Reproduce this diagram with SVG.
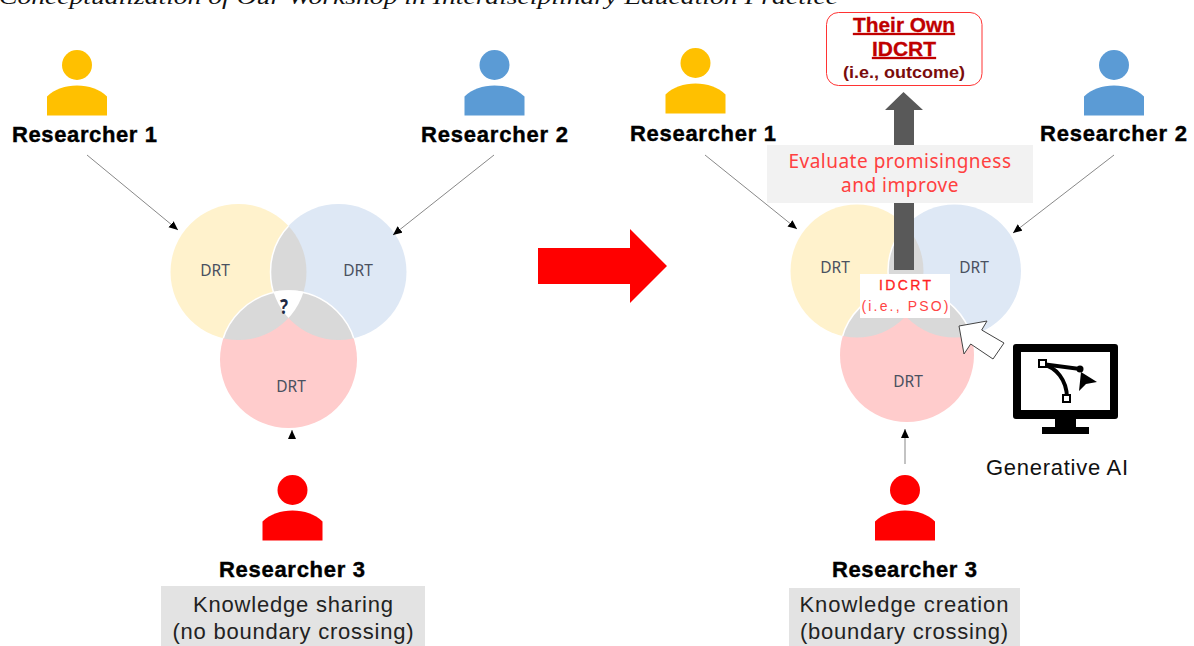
<svg xmlns="http://www.w3.org/2000/svg" width="1194" height="646" viewBox="0 0 1194 646">
<style>
.s{font-family:"Liberation Sans",Arial,sans-serif}
.r{font-family:"Liberation Sans",Arial,sans-serif;font-weight:700;font-size:22px;fill:#000;stroke:#000;stroke-width:.4}
.d{font-family:"Noto Sans",sans-serif;font-size:15.500px;fill:#4a5160;text-anchor:middle}
.k{font-family:"Liberation Sans",Arial,sans-serif;font-size:22px;fill:#222;text-anchor:middle}
.lens{fill:#d9d9d9;stroke:#fff;stroke-width:1.5}
.c{stroke:#555;stroke-width:.7;fill:none;marker-end:url(#ah)}
</style>
<defs>
<marker id="ah" markerWidth="12" markerHeight="12" refX="9" refY="4" orient="auto" markerUnits="userSpaceOnUse"><path d="M0 0L9 4L0 8Z" fill="#000"/></marker>
<g id="person"><circle cx="0" cy="15" r="15"/><path d="M-30 65.500V46.500C-22 39-12 35.500 0 35.500S22 39 30 46.500V65.500Z"/></g>
<clipPath id="ly"><circle cx="238.500" cy="272" r="68"/></clipPath>
<clipPath id="lb"><circle cx="338.500" cy="272" r="68"/></clipPath>
<clipPath id="ry"><circle cx="857" cy="271" r="66.500"/></clipPath>
<clipPath id="rb"><circle cx="954.500" cy="271" r="66.500"/></clipPath>
</defs>
<text x="-1" y="4" font-family="Liberation Serif,serif" font-style="italic" font-size="22" textLength="839" lengthAdjust="spacingAndGlyphs" fill="#111">Conceptualization of Our Workshop in Interdisciplinary Education Practice</text>

<g id="venn-left">
<circle cx="238.500" cy="272" r="68" fill="#fff2cc"/>
<circle cx="338.500" cy="272" r="68" fill="#dee8f5"/>
<circle cx="288.500" cy="359.500" r="68.500" fill="#ffcccc"/>
<g clip-path="url(#ly)"><circle class="lens" cx="338.500" cy="272" r="68"/></g>
<g clip-path="url(#ly)"><circle class="lens" cx="288.500" cy="359.500" r="68.500"/></g>
<g clip-path="url(#lb)"><circle class="lens" cx="288.500" cy="359.500" r="68.500"/></g>
<g clip-path="url(#ly)"><g clip-path="url(#lb)"><circle cx="288.500" cy="359.500" r="68.500" fill="#fff"/></g></g>
<text class="d" x="215" y="275.500">DRT</text><text class="d" x="358" y="275.500">DRT</text><text class="d" x="291" y="391.500">DRT</text>
<text x="284" y="314" font-family="Noto Sans,sans-serif" font-weight="700" font-size="22" fill="#1f2a44" text-anchor="middle" textLength="8" lengthAdjust="spacingAndGlyphs">?</text>
</g>

<g id="venn-right">
<circle cx="857" cy="271" r="66.500" fill="#fff2cc"/>
<circle cx="954.500" cy="271" r="66.500" fill="#dee8f5"/>
<circle cx="907" cy="355" r="67" fill="#ffcccc"/>
<g clip-path="url(#ry)"><circle class="lens" cx="954.500" cy="271" r="66.500"/></g>
<g clip-path="url(#ry)"><circle class="lens" cx="907" cy="355" r="67"/></g>
<g clip-path="url(#rb)"><circle class="lens" cx="907" cy="355" r="67"/></g>
<text class="d" x="835" y="273">DRT</text><text class="d" x="974" y="273">DRT</text><text class="d" x="908" y="386.500">DRT</text>
</g>

<g id="connectors">
<path class="c" d="M87 155L178 230"/>
<path class="c" d="M494 155L393 235"/>
<path class="c" d="M292 437V430"/>
<path class="c" d="M705 155L797 229"/>
<path class="c" d="M1114 155L1013 233"/>
<path class="c" d="M905 464V429"/>
</g>

<g id="researcher-1-left"><use href="#person" x="77" y="50" fill="#ffc000"/><text class="r" x="12" y="142" textLength="145">Researcher 1</text></g>
<g id="researcher-2-left"><use href="#person" x="494.500" y="50" fill="#5b9bd5"/><text class="r" x="421" y="142" textLength="147">Researcher 2</text></g>
<g id="researcher-3-left"><use href="#person" x="292.500" y="475" fill="#f00"/><text class="r" x="219" y="577" textLength="146">Researcher 3</text></g>
<g id="researcher-1-right"><use href="#person" x="695.500" y="48" fill="#ffc000"/><text class="r" x="630" y="141" textLength="146">Researcher 1</text></g>
<g id="researcher-2-right"><use href="#person" x="1114" y="50" fill="#5b9bd5"/><text class="r" x="1040" y="141" textLength="147">Researcher 2</text></g>
<g id="researcher-3-right"><use href="#person" x="905" y="475" fill="#f00"/><text class="r" x="832" y="577" textLength="145">Researcher 3</text></g>

<g id="sharing"><rect x="161" y="586" width="264" height="60" fill="#e3e3e3"/><text class="k" x="293" y="612" textLength="200">Knowledge sharing</text><text class="k" x="293" y="639" textLength="241">(no boundary crossing)</text></g>
<g id="creation"><rect x="789" y="588" width="231" height="58" fill="#e3e3e3"/><text class="k" x="904" y="612" textLength="209">Knowledge creation</text><text class="k" x="904" y="639" textLength="208">(boundary crossing)</text></g>

<path id="big-arrow" d="M538 248H630V229L667 266L630 303V284H538Z" fill="#f00"/>

<path id="up-arrow" d="M894 270V110H885L903.500 92L923 110H914V270Z" fill="#595959"/>
<g id="evaluate"><rect x="767" y="145" width="266" height="58" fill="#f2f2f2"/>
<text x="900" y="168" font-family="Noto Sans,sans-serif" font-size="19" letter-spacing=".5" fill="#ff4040" text-anchor="middle">Evaluate promisingness</text>
<text x="900" y="192" font-family="Noto Sans,sans-serif" font-size="19" letter-spacing=".5" fill="#ff4040" text-anchor="middle">and improve</text></g>
<path d="M894 203V270H914V203Z" fill="#595959"/>

<g id="outcome"><rect x="826.500" y="12.500" width="155.500" height="73" rx="12" fill="#fff" stroke="#f33" stroke-width="1"/>
<g class="s" font-weight="700" text-anchor="middle">
<text x="904" y="32" font-size="20" fill="#c00000" stroke="#c00000" stroke-width=".3" text-decoration="underline" textLength="102" lengthAdjust="spacingAndGlyphs">Their Own</text>
<text x="904" y="56" font-size="20" fill="#c00000" stroke="#c00000" stroke-width=".3" text-decoration="underline" textLength="64" lengthAdjust="spacingAndGlyphs">IDCRT</text>
<text x="904" y="78" font-size="17" fill="#7a0c0c" textLength="122" lengthAdjust="spacingAndGlyphs">(i.e., outcome)</text>
</g></g>

<g id="idcrt"><rect x="860" y="274" width="90" height="44" fill="#fff"/>
<text class="s" x="905" y="290" font-size="14" fill="#f22" stroke="#f22" stroke-width=".3" text-anchor="middle" textLength="52">IDCRT</text>
<text class="s" x="905" y="311" font-size="14" fill="#f44" text-anchor="middle" textLength="87">(i.e., PSO)</text></g>

<path id="white-arrow" d="M959 326L987 321L981.700 330L1004 343L993 359L970.700 344L964 354Z" fill="#fff" stroke="#444" stroke-width="1"/>

<g id="generative-ai">
<path fill-rule="evenodd" d="M1016 344H1115Q1118 344 1118 347V416Q1118 419 1115 419H1076V427H1089V434H1042V427H1055V419H1016Q1013 419 1013 416V347Q1013 344 1016 344ZM1021 352V410H1110V352Z" fill="#000"/>
<path d="M1042 362L1080 367V371L1042 366Z" fill="#000"/>
<path d="M1042 364C1056 367 1067 380 1067 398" stroke="#000" stroke-width="4" fill="none"/>
<circle cx="1080" cy="369" r="3.500" fill="#000"/>
<path d="M1097 382L1081 372L1079 391L1086 384Z" fill="#000"/>
<rect x="1039" y="360" width="7" height="7" fill="#fff" stroke="#000" stroke-width="2"/>
<rect x="1063" y="395" width="7" height="7" fill="#fff" stroke="#000" stroke-width="2"/>
<text x="986" y="475" font-family="Liberation Sans,sans-serif" font-size="22" fill="#111" textLength="142">Generative AI</text>
</g>
</svg>
